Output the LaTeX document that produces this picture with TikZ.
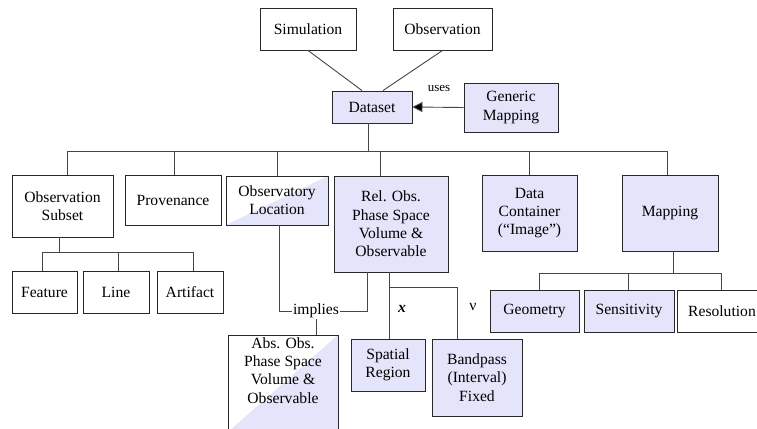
\documentclass[tikz,border=0pt]{standalone}
\usepackage{fontspec}
\setmainfont{LiberationSerif}[Extension=.ttf, UprightFont=*-Regular, BoldFont=*-Bold, ItalicFont=*-Italic, BoldItalicFont=*-BoldItalic, Ligatures=TeX]
\usetikzlibrary{arrows.meta}
\definecolor{lav}{RGB}{228,228,250}
\definecolor{edge}{RGB}{40,40,40}
\definecolor{wire}{RGB}{70,70,70}
\tikzset{
  box/.style={draw=edge, line width=0.9pt, inner sep=0pt, align=center,
    font=\rmfamily\fontsize{15.6}{18.3}\selectfont, fill=white},
  fbox/.style={box, fill=lav},
  hbox/.style={box, path picture={\fill[lav] (path picture bounding box.south west) -- (path picture bounding box.south east) -- (path picture bounding box.north east) -- cycle;}},
  conn/.style={draw=wire, line width=0.9pt},
  lbl/.style={inner sep=1pt, font=\rmfamily\fontsize{15.6}{18.3}\selectfont},
}
\begin{document}
\begin{tikzpicture}[x=1pt,y=-1pt]
\useasboundingbox (0,0) rectangle (757,428);
% top
\node[box, minimum width=96pt, minimum height=42pt] (sim) at (308,29) {Simulation};
\node[box, minimum width=99pt, minimum height=42pt] (obs) at (442.5,29) {Observation};
\node[fbox, minimum width=80pt, minimum height=32pt] (dataset) at (372,107) {Dataset};
\node[fbox, minimum width=94pt, minimum height=49pt] (generic) at (511,107.5) {Generic\\Mapping};
% level 2
\node[box, minimum width=101pt, minimum height=62pt] (obssub) at (62.5,206) {Observation\\Subset};
\node[box, minimum width=96pt, minimum height=50pt] (prov) at (173,200) {Provenance};
\node[hbox, minimum width=102pt, minimum height=49pt] (obsloc) at (277,200.5) {Observatory\\Location};
\node[fbox, minimum width=114pt, minimum height=96pt] (rel) at (391,224) {Rel. Obs.\\Phase Space\\Volume \&\\Observable};
\node[fbox, minimum width=95pt, minimum height=76pt] (datac) at (529.5,213) {Data\\Container\\(“Image”)};
\node[fbox, minimum width=96pt, minimum height=76pt] (mapping) at (670,213) {Mapping};
% level 3
\node[box, minimum width=65pt, minimum height=42pt] (feature) at (44.5,292) {Feature};
\node[box, minimum width=66pt, minimum height=42pt] (line) at (116,292) {Line};
\node[box, minimum width=66pt, minimum height=42pt] (artifact) at (190,292) {Artifact};
\node[fbox, minimum width=89pt, minimum height=42pt] (geometry) at (534.5,311) {Geometry};
\node[fbox, minimum width=90pt, minimum height=42pt] (sensitivity) at (629,311) {Sensitivity};
\node[box, minimum width=90pt, minimum height=42pt] (resolution) at (722,311) {Resolution};
\node[fbox, minimum width=74pt, minimum height=52pt] (spatial) at (388,365) {Spatial\\Region};
\node[fbox, minimum width=90pt, minimum height=77pt] (bandpass) at (477,377.5) {Bandpass\\(Interval)\\Fixed};
\node[hbox, minimum width=110pt, minimum height=97pt] (absobs) at (283,383.5) {Abs. Obs.\\Phase Space\\Volume \&\\Observable\\[8pt]};
% labels
\node[lbl] (implies) at (316,311) {implies};
\node[inner sep=0pt, font=\rmfamily\fontsize{13}{15}\selectfont] (uses) at (439,89) {uses};
\node[inner sep=0pt, font=\rmfamily\fontsize{15.6}{18}\selectfont\bfseries\itshape] (xl) at (402,309) {x};
\node[inner sep=0pt, font=\rmfamily\fontsize{15.6}{18}\selectfont] (nul) at (473,307) {ν};
% connectors top
\draw[conn] (sim.south) -- ([xshift=-10pt]dataset.north);
\draw[conn] (obs.south) -- ([xshift=11pt]dataset.north);
\draw[conn, -{Triangle[length=10pt,width=10pt,fill=black]}] (generic.west) -- (dataset.east);
% bus
\coordinate (busL) at (67,151);
\coordinate (busR) at (667,151);
\draw[conn] ([xshift=-4pt]dataset.south) -- ([xshift=-4pt]dataset.south |- busL);
\draw[conn] (busL) -- (busR);
\draw[conn] ([xshift=4.5pt]obssub.north) -- ([xshift=4.5pt]obssub.north |- busL);
\draw[conn] ([xshift=1pt]prov.north) -- ([xshift=1pt]prov.north |- busL);
\draw[conn] (obsloc.north) -- (obsloc.north |- busL);
\draw[conn] ([xshift=-11pt]rel.north) -- ([xshift=-11pt]rel.north |- busL);
\draw[conn] (datac.north) -- (datac.north |- busL);
\draw[conn] ([xshift=-3pt]mapping.north) -- ([xshift=-3pt]mapping.north |- busL);
% observation subset subtree
\coordinate (sbL) at (42,252);
\coordinate (sbR) at (193,252);
\draw[conn] ([xshift=-3.5pt]obssub.south) -- ([xshift=-3.5pt]obssub.south |- sbL);
\draw[conn] (sbL) -- (sbR);
\draw[conn] ([xshift=-2.5pt]feature.north) -- ([xshift=-2.5pt]feature.north |- sbL);
\draw[conn] ([xshift=2pt]line.north) -- ([xshift=2pt]line.north |- sbL);
\draw[conn] ([xshift=3pt]artifact.north) -- ([xshift=3pt]artifact.north |- sbL);
% mapping subtree
\coordinate (mbL) at (539,273);
\coordinate (mbR) at (721,273);
\draw[conn] ([xshift=3pt]mapping.south) -- ([xshift=3pt]mapping.south |- mbL);
\draw[conn] (mbL) -- (mbR);
\draw[conn] ([xshift=4.5pt]geometry.north) -- ([xshift=4.5pt]geometry.north |- mbL);
\draw[conn] ([xshift=-1pt]sensitivity.north) -- ([xshift=-1pt]sensitivity.north |- mbL);
\draw[conn] ([xshift=-1pt]resolution.north) -- ([xshift=-1pt]resolution.north |- mbL);
% implies
\draw[conn] ([xshift=2pt]obsloc.south) |- (implies.west);
\draw[conn] ([xshift=-24pt]rel.south) |- (implies.east);
\draw[conn] (implies.south) -- (implies.south |- absobs.north);
% x / nu
\coordinate (xb) at (457,287);
\draw[conn] ([xshift=-2pt]rel.south) -- ([xshift=-2pt]rel.south |- xb) -- (xb) -- (xb |- bandpass.north);
\draw[conn] ([xshift=1pt]spatial.north) -- ([xshift=1pt]spatial.north |- xb);
\end{tikzpicture}
\end{document}
